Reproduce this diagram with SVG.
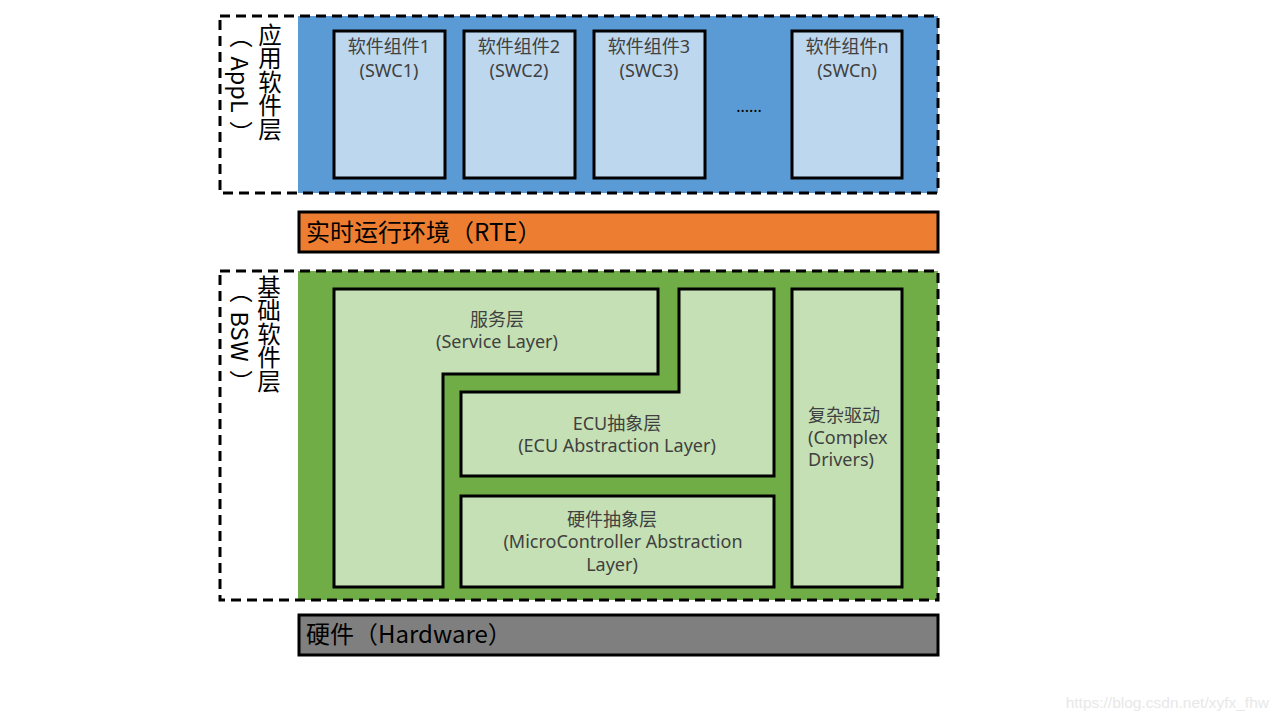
<svg xmlns="http://www.w3.org/2000/svg" width="1280" height="720" viewBox="0 0 1280 720">
<style>
.box{stroke:#000;stroke-width:3}
.dash{fill:none;stroke:#000;stroke-width:3;stroke-dasharray:10 6}
.t{font-family:"Noto Sans","Noto Sans CJK SC",sans-serif;font-size:18px;fill:#404040}
.c{text-anchor:middle}
.side{font-family:"Noto Sans CJK SC",sans-serif;font-size:23.5px;fill:#000;writing-mode:vertical-rl}
.sp{letter-spacing:9px}
.big{font-family:"Noto Sans CJK SC","Noto Sans",sans-serif;font-size:24px;fill:#000}
</style>
<rect width="1280" height="720" fill="#fff"/>
<g id="appl">
<rect x="298" y="16" width="640" height="177" fill="#5B9BD5"/>
<rect class="dash" x="220" y="16" width="718" height="177"/>
<text class="side" x="270" y="23">应用软件层</text>
<text class="side" x="241" y="24"><tspan class="sp">（</tspan>App<tspan class="sp">L</tspan>）</text>
</g>
<g id="swc1"><rect class="box" x="334" y="31" width="111" height="147" fill="#BDD7EE"/>
<text class="t c" x="389" y="53">软件组件1</text><text class="t c" x="389" y="77">(SWC1)</text></g>
<g id="swc2"><rect class="box" x="464" y="31" width="111" height="147" fill="#BDD7EE"/>
<text class="t c" x="519" y="53">软件组件2</text><text class="t c" x="519" y="77">(SWC2)</text></g>
<g id="swc3"><rect class="box" x="594" y="31" width="111" height="147" fill="#BDD7EE"/>
<text class="t c" x="649" y="53">软件组件3</text><text class="t c" x="649" y="77">(SWC3)</text></g>
<text x="749" y="112" font-family="Noto Sans,sans-serif" font-size="16" text-anchor="middle" fill="#000">......</text>
<g id="swcn"><rect class="box" x="792" y="31" width="110" height="147" fill="#BDD7EE"/>
<text class="t c" x="847" y="53">软件组件n</text><text class="t c" x="847" y="77">(SWCn)</text></g>
<g id="rte"><rect class="box" x="299" y="212" width="639" height="40" fill="#ED7D31"/>
<text class="big" x="306" y="241">实时运行环境（RTE）</text></g>
<g id="bsw">
<rect x="298" y="271" width="640" height="329" fill="#70AD47"/>
<rect class="dash" x="220" y="271" width="718" height="329"/>
<text class="side" x="269" y="275">基础软件层</text>
<text class="side" x="241" y="279"><tspan class="sp">（</tspan>BS<tspan class="sp">W</tspan>）</text>
</g>
<g id="service"><path class="box" d="M334 289H658V374H443V587H334Z" fill="#C5E0B4"/>
<text class="t c" x="497" y="326">服务层</text><text class="t c" x="497" y="348">(Service Layer)</text></g>
<g id="ecu"><path class="box" d="M679 289H774V476H461V392H679Z" fill="#C5E0B4"/>
<text class="t c" x="617" y="430">ECU抽象层</text><text class="t c" x="617" y="452">(ECU Abstraction Layer)</text></g>
<g id="mcal"><rect class="box" x="461" y="496" width="313" height="91" fill="#C5E0B4"/>
<text class="t c" x="612" y="526">硬件抽象层</text><text class="t c" x="623" y="548">(MicroController Abstraction</text><text class="t c" x="612" y="571">Layer)</text></g>
<g id="cdd"><rect class="box" x="792" y="289" width="110" height="298" fill="#C5E0B4"/>
<text class="t" x="808" y="422">复杂驱动</text><text class="t" x="808" y="444">(Complex</text><text class="t" x="808" y="466">Drivers)</text></g>
<g id="hw"><rect class="box" x="299" y="615" width="639" height="40" fill="#7F7F7F"/>
<text class="big" x="306" y="643">硬件（Hardware）</text></g>
<g id="connectors"/>
<text x="1269" y="708" font-family="Liberation Sans,sans-serif" font-size="15.5" text-anchor="end" fill="#e8e8e8">https://blog.csdn.net/xyfx_fhw</text>
</svg>
